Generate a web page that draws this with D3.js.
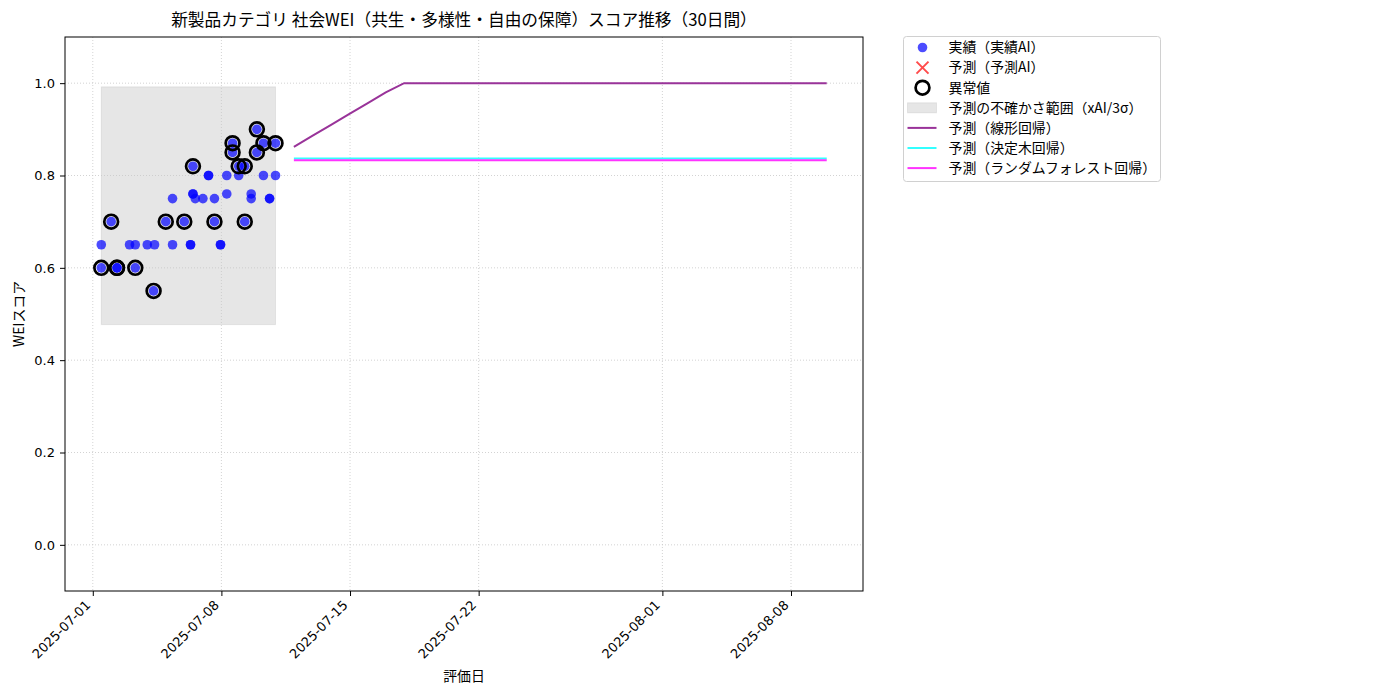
<!DOCTYPE html>
<html>
<head>
    <meta charset="utf-8">
    <title>社会WEI スコア推移</title>
    <script src="https://d3js.org/d3.v7.min.js"></script>
    <style>
        body { margin: 0; background: #fff; }
        svg { display: block; }
        text { font-family: "Noto Sans CJK JP", "Noto Sans", sans-serif; fill: #000; }
        .grid line { stroke: #c8c8c8; stroke-width: 0.8px; stroke-dasharray: 1,2; }
    </style>
</head>
<body>
    <svg></svg>
    <script>
        // 実績データ（評価日時とスコア、異常値フラグ）
        const actualDates = [
            "2025-07-01 11:05", "2025-07-01 11:05", "2025-07-02 00:00", "2025-07-02 07:36",
            "2025-07-02 07:36", "2025-07-03 00:00", "2025-07-03 07:30", "2025-07-03 07:30",
            "2025-07-03 23:10", "2025-07-04 07:25", "2025-07-04 08:40", "2025-07-04 23:20",
            "2025-07-05 08:10", "2025-07-05 08:10", "2025-07-05 23:30", "2025-07-06 07:40",
            "2025-07-06 07:40", "2025-07-06 10:50", "2025-07-06 10:50", "2025-07-06 10:50",
            "2025-07-06 13:50", "2025-07-06 23:50", "2025-07-07 07:10", "2025-07-07 07:10",
            "2025-07-07 14:55", "2025-07-07 14:55", "2025-07-07 22:50", "2025-07-07 22:50",
            "2025-07-08 07:00", "2025-07-08 07:00", "2025-07-08 14:35", "2025-07-08 14:35",
            "2025-07-08 22:35", "2025-07-08 22:35", "2025-07-09 06:30", "2025-07-09 06:30",
            "2025-07-09 14:55", "2025-07-09 14:55", "2025-07-09 22:20", "2025-07-09 22:20",
            "2025-07-10 06:55", "2025-07-10 06:55", "2025-07-10 14:55", "2025-07-10 14:55",
            "2025-07-10 22:40", "2025-07-10 22:40"
        ];
        const actualScores = [
            0.65, 0.60, 0.70, 0.60,
            0.60, 0.65, 0.65, 0.60,
            0.65, 0.55, 0.65, 0.70,
            0.65, 0.75, 0.70, 0.65,
            0.65, 0.82, 0.76, 0.76,
            0.75, 0.75, 0.80, 0.80,
            0.75, 0.70, 0.65, 0.65,
            0.80, 0.76, 0.87, 0.85,
            0.82, 0.80, 0.82, 0.70,
            0.76, 0.75, 0.90, 0.85,
            0.87, 0.80, 0.75, 0.75,
            0.87, 0.80
        ];
        const anomalyFlags = [
            0, 1, 1, 1,
            1, 0, 0, 1,
            0, 1, 0, 1,
            0, 0, 1, 0,
            0, 1, 0, 0,
            0, 0, 0, 0,
            0, 1, 0, 0,
            0, 0, 1, 1,
            1, 0, 1, 1,
            0, 0, 1, 1,
            1, 0, 0, 0,
            1, 0
        ];

        // 予測の不確かさ範囲（xAI/3σ）
        const bandLower = 0.477;
        const bandUpper = 0.992;

        // 予測（30日間）
        const forecastDates = [
            "2025-07-11 22:40", "2025-07-12 22:40", "2025-07-13 22:40", "2025-07-14 22:40",
            "2025-07-15 22:40", "2025-07-16 22:40", "2025-07-17 22:40", "2025-07-18 22:40",
            "2025-07-19 22:40", "2025-07-20 22:40", "2025-07-21 22:40", "2025-07-22 22:40",
            "2025-07-23 22:40", "2025-07-24 22:40", "2025-07-25 22:40", "2025-07-26 22:40",
            "2025-07-27 22:40", "2025-07-28 22:40", "2025-07-29 22:40", "2025-07-30 22:40",
            "2025-07-31 22:40", "2025-08-01 22:40", "2025-08-02 22:40", "2025-08-03 22:40",
            "2025-08-04 22:40", "2025-08-05 22:40", "2025-08-06 22:40", "2025-08-07 22:40",
            "2025-08-08 22:40", "2025-08-09 22:40"
        ];
        const linearPred = [
            0.862, 0.886, 0.909, 0.933, 0.956, 0.980, 1.0, 1.0, 1.0, 1.0,
            1.0, 1.0, 1.0, 1.0, 1.0, 1.0, 1.0, 1.0, 1.0, 1.0,
            1.0, 1.0, 1.0, 1.0, 1.0, 1.0, 1.0, 1.0, 1.0, 1.0
        ];
        const treePred = [
            0.837, 0.837, 0.837, 0.837, 0.837, 0.837, 0.837, 0.837, 0.837, 0.837,
            0.837, 0.837, 0.837, 0.837, 0.837, 0.837, 0.837, 0.837, 0.837, 0.837,
            0.837, 0.837, 0.837, 0.837, 0.837, 0.837, 0.837, 0.837, 0.837, 0.837
        ];
        const forestPred = [
            0.833, 0.833, 0.833, 0.833, 0.833, 0.833, 0.833, 0.833, 0.833, 0.833,
            0.833, 0.833, 0.833, 0.833, 0.833, 0.833, 0.833, 0.833, 0.833, 0.833,
            0.833, 0.833, 0.833, 0.833, 0.833, 0.833, 0.833, 0.833, 0.833, 0.833
        ];

        // 軸目盛り
        const xTickDates = ["2025-07-01", "2025-07-08", "2025-07-15", "2025-07-22", "2025-08-01", "2025-08-08"];
        const yTicks = [0.0, 0.2, 0.4, 0.6, 0.8, 1.0];

        const title = "新製品カテゴリ 社会WEI（共生・多様性・自由の保障）スコア推移（30日間）";
        const legendLabels = [
            "実績（実績AI）", "予測（予測AI）", "異常値", "予測の不確かさ範囲（xAI/3σ）",
            "予測（線形回帰）", "予測（決定木回帰）", "予測（ランダムフォレスト回帰）"
        ];

        // 設定
        const width = 1400;
        const height = 700;
        const margin = { top: 37, right: 537, bottom: 109, left: 65 };
        const plotW = width - margin.left - margin.right;
        const plotH = height - margin.top - margin.bottom;
        const fontSize = "13.9px";
        const tickFont = "\"DejaVu Sans\", sans-serif";

        const parseTime = d3.timeParse("%Y-%m-%d %H:%M");
        const parseDay = d3.timeParse("%Y-%m-%d");

        const actual = actualDates.map((d, i) => ({
            date: parseTime(d), value: actualScores[i], anomaly: anomalyFlags[i] === 1
        }));
        const fDates = forecastDates.map(parseTime);

        const svg = d3.select("svg")
            .attr("width", width)
            .attr("height", height);

        const g = svg.append("g")
            .attr("transform", `translate(${margin.left},${margin.top})`);

        // スケール（matplotlib 風の 5% マージン）
        const allDates = actual.map(d => d.date).concat(fDates);
        const [tMin, tMax] = d3.extent(allDates);
        const pad = (tMax - tMin) * 0.05;
        const x = d3.scaleTime()
            .domain([new Date(+tMin - pad), new Date(+tMax + pad)])
            .range([0, plotW]);
        const y = d3.scaleLinear()
            .domain([-0.1, 1.1])
            .range([plotH, 0]);

        const xTicks = xTickDates.map(parseDay);

        // 不確かさ範囲
        const [aMin, aMax] = d3.extent(actual, d => d.date);
        g.append("rect")
            .attr("x", x(aMin))
            .attr("y", y(bandUpper))
            .attr("width", x(aMax) - x(aMin))
            .attr("height", y(bandLower) - y(bandUpper))
            .attr("fill", "gray")
            .attr("fill-opacity", 0.2)
            .attr("stroke", "gray")
            .attr("stroke-opacity", 0.15);

        // グリッド
        const grid = g.append("g").attr("class", "grid");
        grid.selectAll("line.gx")
            .data(xTicks)
            .join("line")
            .attr("x1", d => x(d)).attr("x2", d => x(d))
            .attr("y1", 0).attr("y2", plotH);
        grid.selectAll("line.gy")
            .data(yTicks)
            .join("line")
            .attr("x1", 0).attr("x2", plotW)
            .attr("y1", d => y(d)).attr("y2", d => y(d));

        // 予測ライン
        const lineSeries = [
            { values: linearPred, color: "#993399" },
            { values: treePred, color: "#33ffff" },
            { values: forestPred, color: "#ff33ff" }
        ];
        const line = d3.line()
            .x((d, i) => x(fDates[i]))
            .y(d => y(d));
        g.append("g")
            .selectAll("path")
            .data(lineSeries)
            .join("path")
            .attr("d", d => line(d.values))
            .attr("fill", "none")
            .attr("stroke", d => d.color)
            .attr("stroke-width", 2);

        // 実績
        g.append("g")
            .selectAll("circle")
            .data(actual)
            .join("circle")
            .attr("cx", d => x(d.date))
            .attr("cy", d => y(d.value))
            .attr("r", 4.8)
            .attr("fill", "blue")
            .attr("fill-opacity", 0.7);

        // 異常値
        g.append("g")
            .selectAll("circle")
            .data(actual.filter(d => d.anomaly))
            .join("circle")
            .attr("cx", d => x(d.date))
            .attr("cy", d => y(d.value))
            .attr("r", 6.9)
            .attr("fill", "none")
            .attr("stroke", "black")
            .attr("stroke-width", 2.7);

        // 軸
        const xAxis = g.append("g")
            .attr("transform", `translate(0,${plotH})`)
            .call(d3.axisBottom(x).tickValues(xTicks).tickFormat(d3.timeFormat("%Y-%m-%d")).tickSizeOuter(0).tickSize(5));
        xAxis.selectAll("text")
            .attr("text-anchor", "end")
            .attr("x", 0)
            .attr("y", 0)
            .attr("dy", null)
            .attr("transform", "translate(-2,15) rotate(-45)")
            .style("font-family", tickFont)
            .style("font-size", "13px");

        const yAxis = g.append("g")
            .call(d3.axisLeft(y).tickValues(yTicks).tickFormat(d3.format(".1f")).tickSizeOuter(0).tickSize(5).tickPadding(5));
        yAxis.selectAll("text")
            .style("font-family", tickFont)
            .style("font-size", "13px");

        g.selectAll(".domain").remove();
        g.selectAll(".tick line").attr("stroke", "#000");

        // 枠
        g.append("rect")
            .attr("width", plotW)
            .attr("height", plotH)
            .attr("fill", "none")
            .attr("stroke", "#000")
            .attr("stroke-width", 1);

        // タイトル・軸ラベル
        svg.append("text")
            .attr("x", margin.left + plotW / 2)
            .attr("y", 26)
            .attr("text-anchor", "middle")
            .style("font-size", "16.7px")
            .text(title);

        svg.append("text")
            .attr("x", margin.left + plotW / 2)
            .attr("y", 681)
            .attr("text-anchor", "middle")
            .style("font-size", fontSize)
            .text("評価日");

        svg.append("text")
            .attr("transform", `translate(24,${margin.top + plotH / 2}) rotate(-90)`)
            .attr("text-anchor", "middle")
            .style("font-size", fontSize)
            .text("WEIスコア");

        // 凡例
        const legend = svg.append("g")
            .attr("transform", "translate(903.5,36.5)");
        legend.append("rect")
            .attr("width", 257)
            .attr("height", 145)
            .attr("rx", 3)
            .attr("fill", "#fff")
            .attr("stroke", "#d0d0d0");

        const rowY = i => 11 + i * 20.1;
        const mx = 19;

        legend.append("circle")
            .attr("cx", mx).attr("cy", rowY(0)).attr("r", 4.8)
            .attr("fill", "blue").attr("fill-opacity", 0.7);
        legend.append("path")
            .attr("d", `M${mx - 6},${rowY(1) - 6}L${mx + 6},${rowY(1) + 6}M${mx - 6},${rowY(1) + 6}L${mx + 6},${rowY(1) - 6}`)
            .attr("stroke", "red").attr("stroke-opacity", 0.7).attr("stroke-width", 2);
        legend.append("circle")
            .attr("cx", mx).attr("cy", rowY(2)).attr("r", 6.9)
            .attr("fill", "none").attr("stroke", "black").attr("stroke-width", 2.7);
        legend.append("rect")
            .attr("x", 4).attr("y", rowY(3) - 5).attr("width", 29).attr("height", 10)
            .attr("fill", "gray").attr("fill-opacity", 0.2)
            .attr("stroke", "gray").attr("stroke-opacity", 0.15);
        lineSeries.forEach((s, i) => {
            legend.append("line")
                .attr("x1", 4).attr("x2", 33)
                .attr("y1", rowY(4 + i)).attr("y2", rowY(4 + i))
                .attr("stroke", s.color).attr("stroke-width", 2);
        });

        legend.selectAll("text")
            .data(legendLabels)
            .join("text")
            .attr("x", 45)
            .attr("y", (d, i) => rowY(i))
            .attr("dy", "0.35em")
            .style("font-size", fontSize)
            .text(d => d);
    </script>
</body>
</html>
